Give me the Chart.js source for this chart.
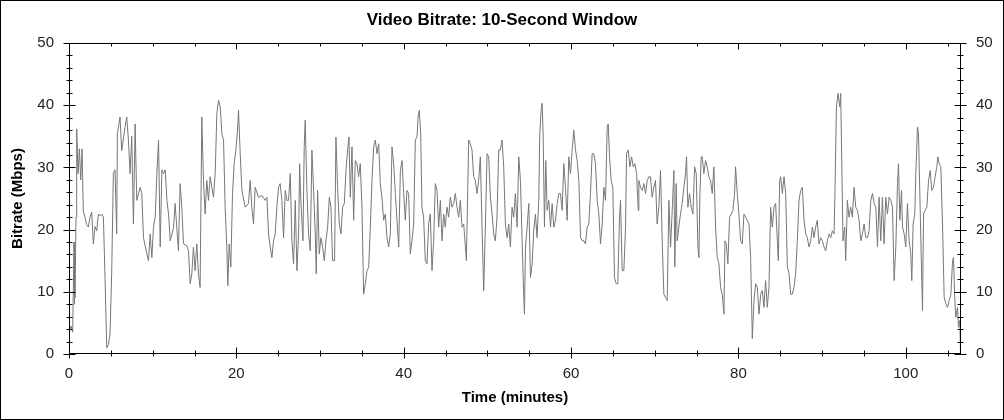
<!DOCTYPE html>
<html>
<head>
<meta charset="utf-8">
<title>Video Bitrate: 10-Second Window</title>
<script src="https://cdn.jsdelivr.net/npm/chart.js@4/dist/chart.umd.min.js"></script>
<style>
  html, body { margin: 0; padding: 0; background: #fff; }
  canvas { display: block; }
</style>
</head>
<body>
<canvas id="bitrateChart" width="1004" height="420"></canvas>
<script>
// time in minutes
const times = [
    0.00, 0.24, 0.44, 0.60, 0.64, 0.68, 0.72, 0.84, 0.92, 1.08, 1.24, 1.40, 1.56, 1.71, 1.91, 2.11, 2.31, 2.51, 2.71, 2.91,
    3.11, 3.31, 3.51, 3.71, 3.91, 4.11, 4.31, 4.51, 4.71, 4.90, 5.10, 5.30, 5.50, 5.70, 5.78, 6.10, 6.30, 6.70, 6.90, 7.10,
    7.30, 7.50, 7.70, 7.90, 8.10, 8.50, 8.70, 8.90, 9.30, 9.50, 9.70, 9.90, 10.10, 10.30, 10.50, 10.70, 10.90, 11.10, 11.30, 11.50,
    11.70, 11.90, 12.10, 12.50, 12.68, 12.88, 13.08, 13.28, 13.48, 13.68, 14.08, 14.28, 14.48, 14.68, 14.87, 15.07, 15.27, 15.47, 15.67, 15.87,
    16.07, 16.27, 16.47, 16.67, 16.87, 17.07, 17.27, 17.47, 17.67, 17.87, 18.07, 18.27, 18.47, 18.66, 18.86, 18.98, 19.14, 19.34, 19.54, 19.74,
    19.94, 20.14, 20.26, 20.46, 20.66, 21.06, 21.45, 21.65, 21.85, 22.05, 22.25, 22.65, 23.05, 23.45, 23.65, 23.85, 24.05, 24.25, 24.44, 24.64,
    24.84, 25.04, 25.24, 25.44, 25.64, 25.84, 26.04, 26.24, 26.44, 26.64, 26.84, 27.04, 27.24, 27.44, 27.56, 27.72, 27.96, 28.11, 28.23, 28.43,
    28.63, 28.83, 29.03, 29.23, 29.43, 29.55, 29.71, 29.91, 30.11, 30.31, 30.51, 30.71, 30.91, 31.11, 31.30, 31.50, 31.74, 31.90, 32.10, 32.30,
    32.50, 32.70, 32.90, 33.10, 33.30, 33.46, 33.62, 33.82, 34.02, 34.21, 34.41, 34.61, 34.81, 35.01, 35.21, 35.41, 35.61, 35.81, 36.01, 36.21,
    36.41, 36.61, 36.81, 37.01, 37.20, 37.40, 37.60, 37.80, 38.00, 38.20, 38.40, 38.60, 38.80, 39.00, 39.20, 39.40, 39.60, 39.80, 40.00, 40.19,
    40.39, 40.59, 40.79, 40.99, 41.19, 41.39, 41.59, 41.71, 41.87, 42.03, 42.18, 42.38, 42.58, 42.78, 42.98, 43.18, 43.38, 43.58, 43.78, 43.98,
    44.18, 44.38, 44.58, 44.78, 44.97, 45.17, 45.37, 45.57, 45.77, 45.97, 46.17, 46.37, 46.57, 46.77, 46.97, 47.17, 47.37, 47.49, 47.65, 47.77,
    47.96, 48.16, 48.36, 48.56, 48.76, 48.96, 49.16, 49.36, 49.56, 49.76, 49.96, 50.16, 50.36, 50.56, 50.76, 50.95, 51.15, 51.35, 51.55, 51.75,
    51.95, 52.15, 52.35, 52.55, 52.75, 52.95, 53.15, 53.35, 53.55, 53.75, 53.95, 54.15, 54.35, 54.43, 54.55, 54.75, 54.95, 55.15, 55.35, 55.54,
    55.74, 55.94, 56.14, 56.26, 56.42, 56.54, 56.66, 56.82, 56.98, 57.14, 57.34, 57.54, 57.74, 57.94, 58.14, 58.34, 58.54, 58.73, 58.93, 59.13,
    59.33, 59.53, 59.73, 59.93, 60.13, 60.33, 60.53, 60.73, 60.93, 61.13, 61.33, 61.53, 61.72, 61.92, 62.12, 62.32, 62.52, 62.72, 62.92, 63.12,
    63.32, 63.52, 63.72, 63.92, 64.12, 64.32, 64.44, 64.60, 64.79, 64.99, 65.19, 65.39, 65.59, 65.79, 65.91, 66.11, 66.31, 66.51, 66.63, 66.83,
    67.03, 67.23, 67.43, 67.63, 67.83, 68.03, 68.10, 68.30, 68.50, 68.70, 68.90, 69.10, 69.30, 69.49, 69.69, 69.89, 70.09, 70.29, 70.49, 70.69,
    70.89, 71.09, 71.29, 71.49, 71.69, 71.89, 72.09, 72.29, 72.40, 72.56, 72.68, 72.88, 73.08, 73.28, 73.48, 73.68, 73.80, 73.96, 74.16, 74.36,
    74.56, 74.76, 74.96, 75.16, 75.28, 75.40, 75.55, 75.67, 75.87, 76.07, 76.27, 76.47, 76.67, 76.87, 77.07, 77.27, 77.47, 77.67, 77.87, 78.07,
    78.27, 78.39, 78.55, 78.74, 78.94, 79.14, 79.34, 79.54, 79.66, 79.86, 80.06, 80.26, 80.46, 80.66, 80.86, 81.06, 81.26, 81.46, 81.66, 81.86,
    82.06, 82.26, 82.46, 82.66, 82.86, 83.05, 83.25, 83.45, 83.65, 83.85, 84.05, 84.25, 84.45, 84.65, 84.77, 84.93, 85.05, 85.25, 85.45, 85.65,
    85.85, 86.05, 86.24, 86.44, 86.64, 86.84, 87.04, 87.24, 87.44, 87.64, 87.84, 88.04, 88.24, 88.44, 88.64, 88.84, 89.03, 89.23, 89.43, 89.63,
    89.83, 90.03, 90.23, 90.43, 90.63, 90.83, 91.03, 91.23, 91.43, 91.55, 91.71, 91.91, 92.11, 92.22, 92.34, 92.50, 92.70, 92.82, 93.02, 93.22,
    93.42, 93.62, 93.82, 94.02, 94.22, 94.42, 94.62, 94.82, 95.02, 95.22, 95.42, 95.62, 95.82, 96.02, 96.22, 96.42, 96.62, 96.81, 97.01, 97.21,
    97.41, 97.61, 97.81, 98.01, 98.21, 98.41, 98.61, 98.81, 99.01, 99.13, 99.29, 99.49, 99.61, 99.81, 100.00, 100.20, 100.40, 100.60, 100.72, 100.88,
    101.08, 101.20, 101.40, 101.52, 101.68, 101.84, 102.00, 102.12, 102.32, 102.52, 102.72, 102.92, 103.11, 103.31, 103.51, 103.71, 103.83, 103.99, 104.19, 104.39,
    104.59, 104.79, 104.99, 105.19, 105.39, 105.59, 105.71, 105.83, 105.98, 106.18, 106.30, 106.46, 106.54
];

// bitrate in Mbps, one per time above
const bitrates = [
    3.5, 4.5, 3.5, 18, 8, 17, 9, 22, 36.2, 29, 33, 28, 33, 23, 22, 20.8, 20.4, 22, 22.8, 17.7,
    20.5, 19.8, 22.5, 22.2, 22.5, 22, 12, 1.0, 1.5, 3.2, 12.9, 29, 29.6, 19.3, 35.4, 38.1, 32.7, 36.5, 38.1, 34.4,
    29, 35, 20.9, 37, 24.7, 26.8, 25.8, 18.7, 16.1, 15, 19.3, 15.5, 20.4, 22, 29, 34.4, 17.2, 29.6, 29, 29.6,
    24.7, 22.5, 18.2, 20.4, 24.2, 20.4, 16.6, 27.4, 23.6, 17.7, 17.4, 16.6, 11.3, 12.9, 17.2, 13.4, 17.7, 12.9, 10.7, 38.1,
    27.9, 22.5, 27.9, 24.7, 28.5, 26.8, 25.2, 29, 38.7, 40.8, 39.7, 35.4, 34.4, 23.6, 17.2, 11, 17.7, 14, 25.8, 30.6,
    32.8, 36, 39.2, 32.2, 26.3, 23.6, 24.2, 27.9, 23.6, 20.9, 26.8, 25.2, 25.5, 24.7, 25.2, 19.3, 17.2, 15.5, 18.2, 19.3,
    23.6, 26.8, 27.4, 24.7, 18.7, 26.3, 24.7, 24.7, 29, 18.2, 14.5, 24.7, 13.4, 19.3, 30.6, 24.2, 18.2, 33.3, 37.6, 26.3,
    19.3, 16.6, 32.8, 26.3, 19.3, 12.9, 26.3, 16.1, 18.7, 17.2, 15, 18.2, 20.4, 25.2, 23.6, 15, 15, 34.9, 26.8, 20.9,
    19.3, 23.6, 24.2, 29.5, 32.8, 34.9, 25.2, 33.3, 21.5, 31.1, 30.6, 28.5, 30.6, 23.6, 9.6, 11.3, 13.4, 13.9, 20.4, 27.9,
    33.3, 34.4, 32.2, 33.8, 27.4, 25.2, 21.5, 22.5, 18.7, 17.2, 19.3, 33.3, 30.6, 25.8, 21.5, 17.2, 29.5, 31.1, 25.8, 21.5,
    26.3, 25.8, 16.1, 18.2, 20.9, 34.4, 34.9, 38.1, 39.2, 35.4, 23.6, 22, 15, 14.5, 20.9, 22.5, 13.4, 18.2, 27.4, 26.3,
    20.4, 24.7, 18.2, 22.5, 20.4, 23.6, 22, 25.2, 23.6, 24.2, 25.8, 23.6, 22, 24.7, 20.4, 20.9, 17.2, 15, 26.3, 34.4,
    33.8, 32.8, 28.5, 27.9, 25.8, 27.9, 31.7, 20.4, 10.2, 20.4, 32.2, 31.7, 25.2, 22.5, 19.3, 18.2, 22, 32.8, 32.8, 34.4,
    30.1, 20.9, 18.7, 20.9, 17.2, 23.6, 22, 25.8, 20.4, 31.7, 27.9, 18.2, 9.1, 6.4, 17.2, 20.4, 24.2, 12.3, 14.5, 19.8,
    22.5, 18.7, 24.7, 35.4, 39.2, 40.3, 35.4, 20.4, 31.1, 23.1, 24.7, 20.4, 24.2, 20.4, 21.5, 24.2, 25.8, 25.8, 23.1, 30.6,
    26.8, 21.5, 31.7, 29, 32.8, 36, 32.8, 31.1, 27.9, 18.7, 18.2, 18.2, 17.7, 20.4, 20.9, 25.8, 32.2, 32.2, 30.6, 24.7,
    22.5, 17.7, 20.9, 26.8, 24.7, 36.5, 37, 31.7, 27.9, 26.8, 12.3, 11.3, 11.3, 22, 24.7, 13.4, 13.4, 20.4, 32.2, 32.8,
    30.1, 31.7, 30.1, 30.6, 29, 23.1, 27.9, 26.8, 26.3, 27.4, 25.8, 27.9, 28.5, 28.5, 25.2, 26.8, 27.9, 20.9, 23.6, 29.5,
    18.2, 9.6, 9.1, 8.6, 24.7, 17.2, 23.1, 29.5, 14, 27.4, 18.2, 20.4, 22.5, 24.2, 26.8, 29, 31.7, 23.6, 25.8, 23.6,
    22.5, 30.1, 29, 17.2, 15.5, 25.8, 31.7, 31.7, 29, 31.1, 30.1, 28.5, 27.9, 25.8, 30.1, 20.4, 15.5, 14.5, 10.7, 9.6,
    6.4, 18.2, 17.7, 14.5, 22, 22.5, 23.1, 25.8, 30.1, 25.8, 22.5, 18.2, 17.7, 22.5, 22, 21.5, 20.9, 15.5, 2.5, 8.6,
    11.3, 10.7, 6.4, 9.6, 10.2, 7.5, 11.8, 7.5, 10.7, 23.6, 20.4, 23.6, 24.2, 18.2, 15, 27.9, 28.5, 25.8, 28.5, 25.8,
    14, 12.9, 9.6, 9.6, 10.7, 12.9, 18.2, 24.7, 26.3, 26.8, 21.5, 19.3, 18.7, 17.2, 18.2, 20.4, 18.7, 20.4, 21.5, 17.7,
    18.7, 18.2, 17.2, 16.6, 18.2, 19.3, 18.7, 19.8, 19.3, 26.8, 39.7, 41.9, 39.7, 41.9, 31.7, 18.2, 20.4, 15, 24.7, 22,
    23.6, 22, 26.8, 23.6, 23.1, 21.5, 18.2, 19.3, 20.9, 18.7, 18.7, 19.8, 24.7, 25.8, 24.2, 23.6, 17.2, 25.2, 18.2, 25.2,
    17.7, 25.2, 22.5, 25.2, 24.7, 23.6, 11.8, 17.2, 27.4, 30.6, 21.5, 26.3, 20.4, 19.3, 17.2, 24.2, 18.2, 16.1, 11.8, 20.9,
    22.5, 29, 36.5, 35.4, 25.8, 16.1, 7, 22.5, 23.1, 23.6, 27.9, 29.5, 26.3, 26.8, 28.5, 30.1, 31.7, 30.6, 30.1, 20.9,
    9.1, 8.1, 7.5, 8.6, 9.6, 15, 15.5, 9.6, 5.9, 7.5, 4.3, 5.4, 0
];

const yTicks = [0, 10, 20, 30, 40, 50];
const xTicks = [0, 20, 40, 60, 80, 100];
const xMax = 106.6;

Chart.defaults.font.family = '"Liberation Sans", Arial, sans-serif';
Chart.defaults.font.size = 15;

// inward/outward tick marks + frame, like the original plot
const frameTicks = {
    id: "frameTicks",
    afterDatasetsDraw(chart) {
        const { ctx, chartArea: a, scales } = chart;
        const xs = scales.x, ys = scales.y;
        ctx.save();
        ctx.strokeStyle = "#000";
        ctx.lineWidth = 1;

        const L = Math.round(a.left) + 0.5, R = Math.round(a.right) - 0.5;
        const T = Math.round(a.top) + 0.5, B = Math.round(a.bottom) - 0.5;
        ctx.strokeRect(L, T, R - L, B - T);

        ctx.beginPath();
        for (let v = 0; v <= xMax; v += 5) {
            const px = Math.round(xs.getPixelForValue(v)) + 0.5;
            const big = v % 20 === 0;
            ctx.moveTo(px, B - (big ? 6 : 3)); ctx.lineTo(px, B + (big ? 5 : 3));
            ctx.moveTo(px, T); ctx.lineTo(px, T + (big ? 6 : 3));
        }
        for (let v = 0; v <= 50; v += 2) {
            const py = Math.round(ys.getPixelForValue(v)) + 0.5;
            const big = v % 10 === 0;
            const len = big ? 6 : 3;
            ctx.moveTo(L - len, py); ctx.lineTo(L + len, py);
            ctx.moveTo(R - len, py); ctx.lineTo(R + len, py);
        }
        ctx.stroke();

        // outer picture border
        ctx.strokeRect(0.5, 0.5, chart.width - 1, chart.height - 1);
        ctx.restore();
    }
};

const ctx = document.getElementById("bitrateChart");

new Chart(ctx, {
    type: "line",
    data: {
        datasets: [{
            data: times.map((t, i) => ({ x: t, y: bitrates[i] })),
            borderColor: "#777",
            borderWidth: 1,
            pointRadius: 0,
            tension: 0,
            fill: false
        }]
    },
    options: {
        responsive: false,
        animation: false,
        layout: { padding: 0 },
        plugins: {
            legend: { display: false },
            tooltip: { enabled: false },
            title: {
                display: true,
                text: "Video Bitrate: 10-Second Window",
                color: "#000",
                font: { size: 17, weight: "bold" },
                padding: { top: 10, bottom: 12.6 }
            }
        },
        scales: {
            x: {
                type: "linear",
                position: "bottom",
                min: 0,
                max: xMax,
                afterBuildTicks: s => { s.ticks = xTicks.map(v => ({ value: v })); },
                ticks: { color: "#222", padding: 11, maxRotation: 0, autoSkip: false },
                grid: { display: false, drawTicks: false },
                border: { display: false },
                title: {
                    display: true,
                    text: "Time (minutes)",
                    color: "#000",
                    font: { size: 15, weight: "bold" },
                    padding: { top: 0, bottom: 13 }
                },
                afterFit: s => { s.height = 66; }
            },
            y: {
                position: "left",
                min: 0,
                max: 50,
                afterBuildTicks: s => { s.ticks = yTicks.map(v => ({ value: v })); },
                ticks: { color: "#222", padding: 15 },
                grid: { display: false, drawTicks: false },
                border: { display: false },
                title: {
                    display: true,
                    text: "Bitrate (Mbps)",
                    color: "#000",
                    font: { size: 15, weight: "bold" },
                    padding: { top: 9, bottom: 0 }
                },
                afterFit: s => { s.width = 69; }
            },
            y2: {
                position: "right",
                min: 0,
                max: 50,
                afterBuildTicks: s => { s.ticks = yTicks.map(v => ({ value: v })); },
                ticks: { color: "#222", padding: 15 },
                grid: { display: false, drawTicks: false },
                border: { display: false },
                afterFit: s => { s.width = 43; }
            }
        }
    },
    plugins: [frameTicks]
});
</script>
</body>
</html>
